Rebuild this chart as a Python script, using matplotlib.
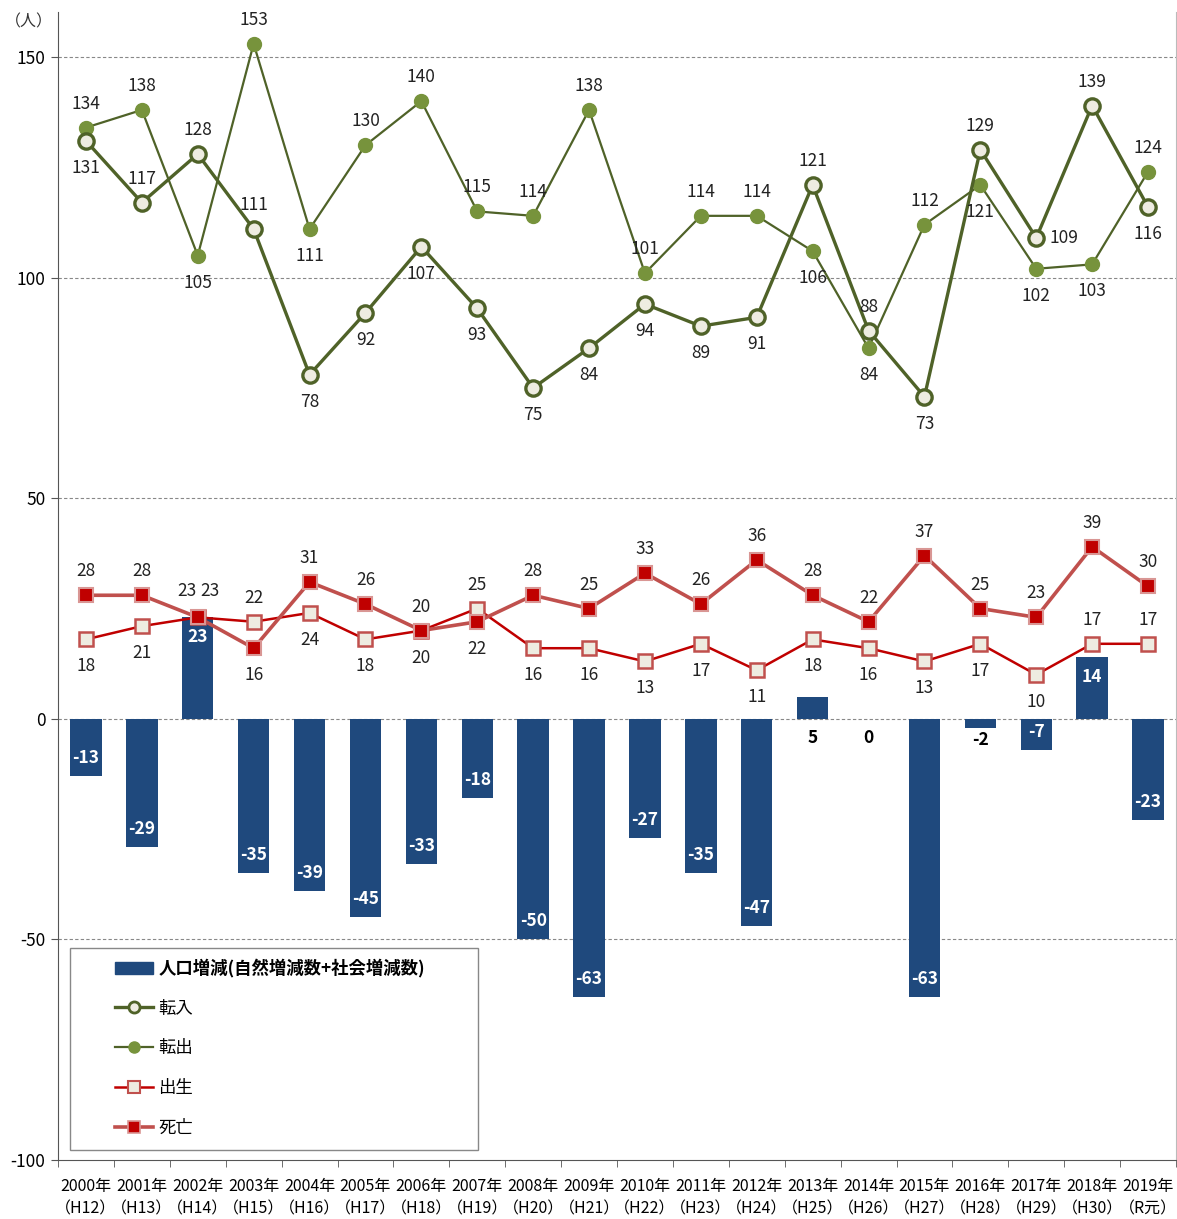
import matplotlib
matplotlib.use("Agg")
import matplotlib.pyplot as plt
from matplotlib.patches import Rectangle
from matplotlib.lines import Line2D
import numpy as np

plt.rcParams['font.family'] = ['Noto Sans CJK JP', 'DejaVu Sans']

years = ["2000年\n（H12）", "2001年\n（H13）", "2002年\n（H14）", "2003年\n（H15）", "2004年\n（H16）",
         "2005年\n（H17）", "2006年\n（H18）", "2007年\n（H19）", "2008年\n（H20）", "2009年\n（H21）",
         "2010年\n（H22）", "2011年\n（H23）", "2012年\n（H24）", "2013年\n（H25）", "2014年\n（H26）",
         "2015年\n（H27）", "2016年\n（H28）", "2017年\n（H29）", "2018年\n（H30）", "2019年\n（R元）"]
change = [-13, -29, 23, -35, -39, -45, -33, -18, -50, -63, -27, -35, -47, 5, 0, -63, -2, -7, 14, -23]
tennyu = [131, 117, 128, 111, 78, 92, 107, 93, 75, 84, 94, 89, 91, 121, 88, 73, 129, 109, 139, 116]
tenshutsu = [134, 138, 105, 153, 111, 130, 140, 115, 114, 138, 101, 114, 114, 106, 84, 112, 121, 102, 103, 124]
birth = [18, 21, 23, 22, 24, 18, 20, 25, 16, 16, 13, 17, 11, 18, 16, 13, 17, 10, 17, 17]
death = [28, 28, 23, 16, 31, 26, 20, 22, 28, 25, 33, 26, 36, 28, 22, 37, 25, 23, 39, 30]

# label placement: 'a' above, 'b' below, 'r' right, 'al' above-left, 'ar' above-right
pos_in = ['b','a','a','a','b','b','b','b','b','b','b','b','b','a','a','b','a','r','a','b']
pos_out = ['a','a','b','a','b','a','a','a','a','a','a','a','a','b','b','a','b','b','b','a']
pos_birth = ['b','b','al','a','b','b','b','a','b','b','b','b','b','b','b','b','b','b','a','a']
pos_death = ['a','a','ar','b','a','a','a','b','a','a','a','a','a','a','a','a','a','a','a','a']

OFF = {'a': (0, 24), 'b': (0, -27), 'r': (28, 0), 'al': (-11, 26), 'ar': (12, 26)}

fig = plt.figure(figsize=(11.77, 12.19), dpi=100)
ax = fig.add_axes([58/1177, 1 - 1160/1219, (1176-58)/1177, (1160-12)/1219])

x = np.arange(len(years))
bar_c = '#1F497D'
olive = '#4F6228'
olive_l = '#77933C'
cream = '#EEECE1'
red = '#C00000'
red_l = '#C0504D'

ax.set_xlim(-0.5, len(years) - 0.5)
ax.set_ylim(-100, 160.2)
for yv in [150, 100, 50, 0, -50]:
    ax.axhline(yv, color='#888888', lw=0.8, ls=(0, (3, 2)), zorder=0)

ax.bar(x, change, width=0.56, color=bar_c, zorder=2)

ax.plot(x, tennyu, color=olive, lw=2.4, marker='o', ms=11, mfc=cream, mec=olive, mew=2.4, zorder=5)
ax.plot(x, tenshutsu, color=olive, lw=1.6, marker='o', ms=10, mfc=olive_l, mec=olive_l, mew=1, zorder=4)
ax.plot(x, birth, color=red, lw=1.8, marker='s', ms=10, mfc=cream, mec=red_l, mew=1.8, zorder=4)
ax.plot(x, death, color=red_l, lw=2.6, marker='s', ms=10, mfc=red, mec='#D99694', mew=1.5, zorder=5)

fs = 12.5
for series, poss in [(tennyu, pos_in), (tenshutsu, pos_out), (birth, pos_birth), (death, pos_death)]:
    for i, (v, p) in enumerate(zip(series, poss)):
        dx, dy = OFF[p]
        ax.annotate(str(v), (i, v), xytext=(dx, dy), textcoords='offset pixels',
                    ha='center', va='center', fontsize=fs, color='#222222', zorder=6)

for i, v in enumerate(change):
    if abs(v) <= 5:
        ax.annotate(str(v), (i, 0), xytext=(0, -19 if v >= 0 else -21), textcoords='offset pixels',
                    ha='center', va='center', fontsize=fs, fontweight='bold', color='black', zorder=6)
    else:
        dy = -20 if v > 0 else 18
        ax.annotate(str(v), (i, v), xytext=(0, dy), textcoords='offset pixels',
                    ha='center', va='center', fontsize=fs, fontweight='bold', color='white', zorder=6)

ax.set_yticks([-100, -50, 0, 50, 100, 150])
ax.set_yticklabels(['-100', '-50', '0', '50', '100', '150'], fontsize=12.5)
ax.set_xticks(x)
ax.set_xticklabels(years, fontsize=11.5, linespacing=1.4)
ax.set_xticks(np.arange(-0.5, len(years) + 0.5, 1), minor=True)
ax.tick_params(axis='x', which='major', length=0, pad=13)
ax.tick_params(axis='x', which='minor', length=5, color='#555555')
ax.tick_params(axis='y', length=5, color='#555555', pad=4)

ax.spines['top'].set_visible(False)
ax.spines['left'].set_color('#555555')
ax.spines['bottom'].set_color('#555555')
ax.spines['right'].set_color('#BBBBBB')

fig.text(29/1177, 1 - 22/1219, '（人）', fontsize=11.5, ha='center', va='center', color='#333333')

# legend
ax.add_patch(Rectangle(((70-58)/1118, (1160-1150)/1148), (478-70)/1118, (1150-948)/1148,
                       transform=ax.transAxes, fill=True, fc='white', ec='#888888', lw=1, zorder=7))
handles = [
    Rectangle((0, 0), 1, 1, color=bar_c),
    Line2D([], [], color=olive, lw=2.4, marker='o', ms=8, mfc=cream, mec=olive, mew=2),
    Line2D([], [], color=olive, lw=1.6, marker='o', ms=8, mfc=olive_l, mec=olive_l),
    Line2D([], [], color=red, lw=1.8, marker='s', ms=8, mfc=cream, mec=red_l, mew=1.5),
    Line2D([], [], color=red_l, lw=2.6, marker='s', ms=8, mfc=red, mec='#D99694', mew=1.2),
]
labels = ['人口増減(自然増減数+社会増減数)', '転入', '転出', '出生', '死亡']
leg = ax.legend(handles, labels, loc='upper left', bbox_to_anchor=((108-58)/1118, (1160-952)/1148),
                frameon=False, fontsize=12.5, labelspacing=1.25, handlelength=2.2, handletextpad=0.3,
                borderaxespad=0)
leg.set_zorder(8)
leg.get_texts()[0].set_fontweight('bold')

fig.savefig('out.png', dpi=100)
